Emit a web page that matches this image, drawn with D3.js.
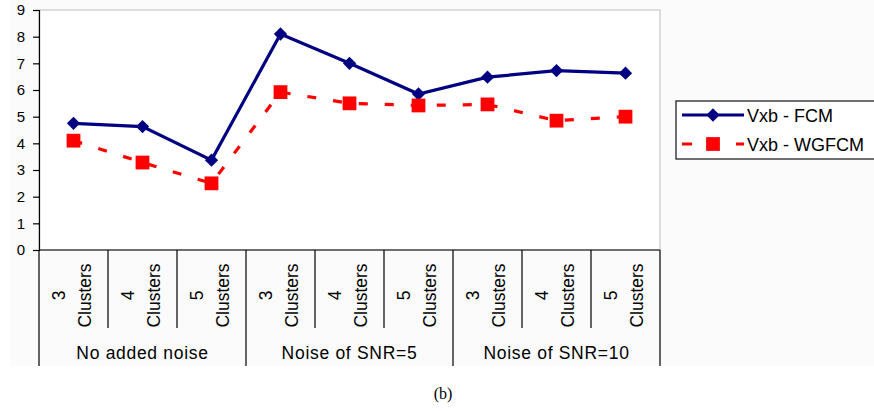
<!DOCTYPE html>
<html>
<head>
<meta charset="utf-8">
<script src="https://cdn.jsdelivr.net/npm/d3@7/dist/d3.min.js"></script>
<style>
  body { margin: 0; background: #fff; }
  text { font-family: "Liberation Sans", Arial, sans-serif; fill: #000; }
</style>
</head>
<body>
<svg id="chart"></svg>
<script>
// data
var groups = ["No added noise", "Noise of SNR=5", "Noise of SNR=10"];
var clusterNums = ["3", "4", "5"];
var fcm = [4.75, 4.63, 3.37, 8.1, 7.0, 5.85, 6.48, 6.73, 6.63];
var wgfcm = [4.1, 3.28, 2.5, 5.92, 5.5, 5.42, 5.46, 4.85, 5.0];
var yTicks = [0, 1, 2, 3, 4, 5, 6, 7, 8, 9];
var seriesNames = ["Vxb - FCM", "Vxb - WGFCM"];

var w = 874;
var h = 411;
// note: "top" is reserved on window, so use plot* names
var plotL = 39, plotR = 660, plotT = 10, plotB = 250;

var svg = d3.select("#chart")
            .attr("width", w)
            .attr("height", h);

// categories = every (group, cluster) pair
var cats = [];
groups.forEach(function(g, gi){
  clusterNums.forEach(function(c){
    cats.push({key: gi + "-" + c, group: gi, num: c});
  });
});

var x = d3.scaleBand()
          .domain(cats.map(function(d){ return d.key; }))
          .range([plotL, plotR])
          .padding(0);

var y = d3.scaleLinear()
          .domain([0, 9])
          .range([plotB, plotT]);

// faint chart-area tint
svg.append("rect")
   .attr("x", 10).attr("y", 0)
   .attr("width", w - 10).attr("height", 366)
   .style("fill", "#fbfbfb");

// plot area
svg.append("rect")
   .attr("x", plotL).attr("y", plotT)
   .attr("width", plotR - plotL).attr("height", plotB - plotT)
   .style("fill", "#fff")
   .style("stroke", "#c8c8c8")
   .style("stroke-width", 1.2);

// y axis
var yAxis = d3.axisLeft(y)
              .tickValues(yTicks)
              .tickSize(6)
              .tickPadding(8)
              .tickFormat(d3.format("d"));

var gy = svg.append("g")
            .attr("transform", "translate(" + plotL + ",0)")
            .call(yAxis);
gy.select(".domain").style("stroke", "#000").style("stroke-width", 1.2);
gy.selectAll(".tick line").style("stroke", "#000").style("stroke-width", 1.2);
gy.selectAll(".tick text")
  .style("font-size", "15px")
  .style("font-family", "'Liberation Sans', Arial, sans-serif");

// category axis line
svg.append("line")
   .attr("x1", plotL).attr("x2", plotR)
   .attr("y1", y(0)).attr("y2", y(0))
   .style("stroke", "#000").style("stroke-width", 1.2);

// separators between categories (short) and groups (long)
var edges = cats.map(function(d){ return x(d.key); }).concat([plotR]);
svg.selectAll("line.sep")
   .data(edges)
   .enter()
   .append("line")
     .attr("class", "sep")
     .attr("x1", function(d){ return d; })
     .attr("x2", function(d){ return d; })
     .attr("y1", y(0))
     .attr("y2", function(d, i){ return (i % 3 === 0) ? 366 : 328; })
     .style("stroke", "#000")
     .style("stroke-width", 1.2);

// category labels, two lines, rotated
var catText = svg.selectAll("text.cat")
   .data(cats)
   .enter()
   .append("text")
     .attr("class", "cat")
     .attr("transform", function(d){
       return "translate(" + (x(d.key) + x.bandwidth() / 2) + ",295.5) rotate(-90)";
     })
     .style("text-anchor", "middle")
     .style("font-size", "17.5px");
catText.append("tspan").attr("x", 0).attr("y", -8.5).text(function(d){ return d.num; });
catText.append("tspan").attr("x", 0).attr("y", 17.5).text("Clusters");

// group labels
svg.selectAll("text.grp")
   .data(groups)
   .enter()
   .append("text")
     .attr("class", "grp")
     .attr("x", function(d, i){
       return (edges[i * 3] + edges[i * 3 + 3]) / 2;
     })
     .attr("y", 358.5)
     .style("text-anchor", "middle")
     .style("font-size", "17.5px")
     .style("letter-spacing", "0.7px")
     .text(function(d){ return d; });

// series
var cx = function(d, i){ return x(cats[i].key) + x.bandwidth() / 2; };

var line = d3.line()
             .x(cx)
             .y(function(d){ return y(d); });

svg.append("path")
   .datum(wgfcm)
   .attr("d", line)
   .style("fill", "none")
   .style("stroke", "#ff0000")
   .style("stroke-width", 3.2)
   .style("stroke-dasharray", "9,17");

svg.append("path")
   .datum(fcm)
   .attr("d", line)
   .style("fill", "none")
   .style("stroke", "#000080")
   .style("stroke-width", 3.2);

var diamond = d3.symbol().type(d3.symbolSquare).size(88);
var square = d3.symbol().type(d3.symbolSquare).size(190);

svg.selectAll("path.fcmPt")
   .data(fcm)
   .enter()
   .append("path")
     .attr("class", "fcmPt")
     .attr("d", diamond)
     .attr("transform", function(d, i){
       return "translate(" + cx(d, i) + "," + y(d) + ") rotate(45)";
     })
     .style("fill", "#000080");

svg.selectAll("path.wgPt")
   .data(wgfcm)
   .enter()
   .append("path")
     .attr("class", "wgPt")
     .attr("d", square)
     .attr("transform", function(d, i){
       return "translate(" + cx(d, i) + "," + y(d) + ")";
     })
     .style("fill", "#ff0000");

// legend
var lg = svg.append("g");
lg.append("rect")
  .attr("x", 676).attr("y", 101)
  .attr("width", 202).attr("height", 58)
  .style("fill", "#fff")
  .style("stroke", "#222")
  .style("stroke-width", 1.3);

lg.append("line")
  .attr("x1", 682).attr("x2", 744)
  .attr("y1", 115).attr("y2", 115)
  .style("stroke", "#000080").style("stroke-width", 3.2);
lg.append("path")
  .attr("d", diamond)
  .attr("transform", "translate(713,115) rotate(45)")
  .style("fill", "#000080");

lg.append("line")
  .attr("x1", 682).attr("x2", 744)
  .attr("y1", 144).attr("y2", 144)
  .style("stroke", "#ff0000").style("stroke-width", 3.2)
  .style("stroke-dasharray", "10,44,8");
lg.append("path")
  .attr("d", square)
  .attr("transform", "translate(713,144)")
  .style("fill", "#ff0000");

lg.selectAll("text.lg")
  .data(seriesNames)
  .enter()
  .append("text")
    .attr("class", "lg")
    .attr("x", 747)
    .attr("y", function(d, i){ return 122 + i * 29; })
    .style("font-size", "18px")
    .text(function(d){ return d; });

// caption
svg.append("text")
   .attr("x", 443)
   .attr("y", 399)
   .style("text-anchor", "middle")
   .style("font-family", "'Liberation Serif', 'Times New Roman', serif")
   .style("font-size", "16px")
   .text("(b)");
</script>
</body>
</html>
